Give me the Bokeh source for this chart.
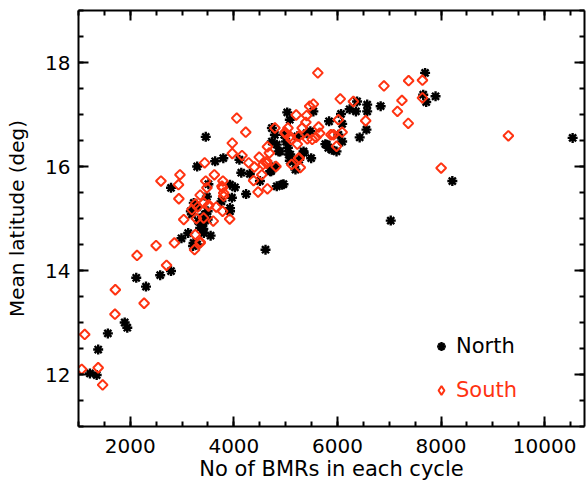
import math
from bokeh.plotting import figure
from bokeh.models import (Range1d, LinearAxis, SingleIntervalTicker, Legend, LegendItem,
                          CustomJSTickFormatter)
from bokeh.embed import file_html
from bokeh.resources import INLINE

# ---------------- data ----------------
north_x = [1221, 1351, 1380, 1567, 1892, 1942, 2115, 2303, 2577, 2786, 2786, 2988, 3118, 3212,
           3291, 3169, 3226, 3291, 3313, 3349, 3385, 3443, 3493, 3457, 3508, 3551, 3493, 3638,
           3796, 3760, 3926, 3962, 3926, 3926, 4020, 4107, 4143, 4236, 4308, 4503, 4611, 4720,
           4792, 4792, 4828, 4958, 4828, 4864, 4972, 5008, 5030, 5080, 5044, 5059, 5080, 5189,
           5225, 5261, 5347, 5405, 5477, 5492, 5535, 5766, 5824, 5838, 5982, 6018, 6069, 6091,
           6091, 6235, 6379, 6357, 6429, 6574, 6574, 6560, 6834, 7029, 7692, 7656, 7714, 7894,
           8218, 10541, 3410, 3410, 3380, 3222, 3190, 3479, 4734, 4734, 4927, 5152, 5088, 4894,
           5795, 5892, 5345, 4701, 3290, 3420]
north_y = [12.02, 11.99, 12.48, 12.79, 13.00, 12.90, 13.86, 13.69, 13.91, 13.99, 15.59, 14.62, 14.72, 14.47,
           14.50, 15.14, 15.30, 16.00, 14.95, 14.82, 14.88, 15.08, 15.14, 16.57, 15.66, 14.67, 14.98, 16.10,
           16.16, 15.33, 15.65, 15.40, 15.20, 15.14, 15.60, 16.13, 15.88, 15.47, 15.86, 15.72, 14.40, 15.91,
           16.00, 16.61, 15.62, 15.66, 16.42, 16.29, 16.61, 16.48, 17.04, 16.90, 16.36, 16.23, 16.11, 15.94,
           16.58, 16.13, 16.26, 16.64, 16.68, 16.16, 17.06, 16.43, 16.36, 16.87, 16.29, 16.61, 17.01, 16.82,
           16.48, 17.10, 17.25, 17.06, 16.56, 17.19, 17.06, 16.71, 17.16, 14.96, 17.80, 17.38, 17.24, 17.35,
           15.72, 16.55, 14.80, 14.92, 15.02, 14.53, 15.08, 15.42, 16.74, 16.48, 15.65, 16.10, 16.23, 16.29,
           16.42, 16.32, 16.29, 15.91, 15.22, 14.72]

south_x = [1062, 1120, 1380, 1466, 1711, 1704, 2130, 2267, 2498, 2592, 2700, 2851, 2931, 2938,
           2959, 3032, 3190, 3241, 3255, 3277, 3298, 3349, 3349, 3421, 3436, 3457, 3479, 3515,
           3602, 3623, 3659, 3782, 3789, 3782, 3803, 3919, 3969, 3969, 4056, 4157, 4229, 4287,
           4395, 4380, 4467, 4489, 4539, 4633, 4648, 4648, 4684, 4792, 4813, 4987, 5044, 5102,
           5116, 5203, 5225, 5261, 5282, 5318, 5390, 5405, 5419, 5463, 5535, 5513, 5585, 5621,
           5636, 5657, 5874, 5924, 5982, 6018, 6054, 6091, 6307, 6545, 6898, 7158, 7245, 7367,
           7374, 7641, 7641, 8002, 9300, 3415, 3350, 3254, 3769, 3801, 3511, 4991, 5088, 5249,
           4566, 4636, 5249]
south_y = [12.10, 12.77, 12.13, 11.80, 13.63, 13.16, 14.29, 13.37, 14.48, 15.72, 14.10, 14.53, 15.65, 15.38,
           15.84, 14.98, 15.17, 14.40, 14.69, 15.00, 15.22, 14.53, 15.45, 15.30, 16.07, 15.72, 15.59, 15.26,
           14.95, 15.84, 15.22, 15.59, 15.72, 15.14, 15.49, 14.99, 16.45, 16.25, 16.93, 16.21, 16.66, 16.07,
           15.99, 15.73, 15.51, 16.18, 15.84, 16.06, 15.57, 16.38, 16.26, 16.74, 16.00, 16.66, 16.74, 16.52,
           16.04, 16.99, 16.43, 16.16, 15.98, 16.74, 16.85, 16.98, 16.53, 17.16, 17.20, 16.52, 16.56, 17.80,
           16.76, 16.64, 16.61, 16.61, 16.39, 16.90, 17.30, 16.66, 17.25, 16.88, 17.55, 17.06, 17.27, 16.83,
           17.65, 17.66, 17.32, 15.97, 16.59, 15.01, 14.55, 15.28, 15.62, 15.43, 15.24, 16.64, 16.58, 16.58,
           16.04, 16.10, 16.16]

series_labels = ["North", "South"]
x_title = "No of BMRs in each cycle"
y_title = "Mean latitude (deg)"

# ---------------- styling ----------------
FONT = "DejaVu Sans"
RED = "#ff3311"

p = figure(width=586, height=487, output_backend="svg", toolbar_location=None,
           x_range=Range1d(1000, 10770), y_range=Range1d(11, 19),
           x_axis_type=None, y_axis_type=None,
           min_border_left=78, min_border_right=2, min_border_top=10, min_border_bottom=61)
p.outline_line_color = None
p.xgrid.visible = False
p.ygrid.visible = False
p.background_fill_color = "white"
p.border_fill_color = "white"


def style_axis(ax, labels=True):
    ax.axis_line_width = 2
    ax.axis_line_color = "black"
    ax.major_tick_in = 10
    ax.major_tick_out = 0
    ax.minor_tick_in = 5
    ax.minor_tick_out = 0
    ax.major_tick_line_width = 2
    ax.minor_tick_line_width = 2
    ax.major_tick_line_color = "black"
    ax.minor_tick_line_color = "black"
    if labels:
        ax.major_label_text_font = FONT
        ax.major_label_text_font_size = "20px"
        ax.major_label_text_color = "black"
        ax.axis_label_text_font = FONT
        ax.axis_label_text_font_size = "20px"
        ax.axis_label_text_font_style = "normal"
        ax.axis_label_text_color = "black"
    else:
        ax.formatter = CustomJSTickFormatter(code="return ''")
        ax.major_label_text_font_size = "0px"
        ax.major_label_standoff = 0


xb = LinearAxis(ticker=SingleIntervalTicker(interval=2000, num_minor_ticks=4), axis_label=x_title)
style_axis(xb)
xb.axis_label_text_font_size = "21px"
xb.major_label_standoff = 12
xb.axis_label_standoff = 1
p.add_layout(xb, "below")

yl = LinearAxis(ticker=SingleIntervalTicker(interval=2, num_minor_ticks=4), axis_label=y_title)
style_axis(yl)
yl.major_label_standoff = 8
yl.axis_label_standoff = 13
p.add_layout(yl, "left")

xt = LinearAxis(ticker=SingleIntervalTicker(interval=2000, num_minor_ticks=4))
style_axis(xt, labels=False)
p.add_layout(xt, "above")

yr = LinearAxis(ticker=SingleIntervalTicker(interval=2, num_minor_ticks=4))
style_axis(yr, labels=False)
p.add_layout(yr, "right")

rn = p.scatter(north_x, north_y, marker="asterisk", size=10, line_width=2.4, line_color="black")
rs = p.scatter(south_x, south_y, marker="square", angle=math.pi / 4, size=7, line_width=2,
               line_color=RED, fill_color=None)
# hidden twin used only for the legend key (legend keys ignore marker angle)
rs_key = p.scatter(south_x, south_y, marker="diamond", size=9, line_width=2,
                   line_color=RED, fill_color=None, visible=False)


def add_legend(label, r, color, loc):
    lg = Legend(items=[LegendItem(label=label, renderers=[r])], location=loc,
                border_line_color=None, background_fill_alpha=0, padding=0, margin=0,
                glyph_width=22, glyph_height=22, label_height=22, label_standoff=4,
                spacing=0, label_text_font=FONT, label_text_font_size="21px",
                label_text_color=color, click_policy="none")
    p.add_layout(lg)


add_legend(series_labels[0], rn, "black", (352, 68))
add_legend(series_labels[1], rs_key, RED, (352, 24))

open("out.html", "w").write(file_html(p, INLINE))
